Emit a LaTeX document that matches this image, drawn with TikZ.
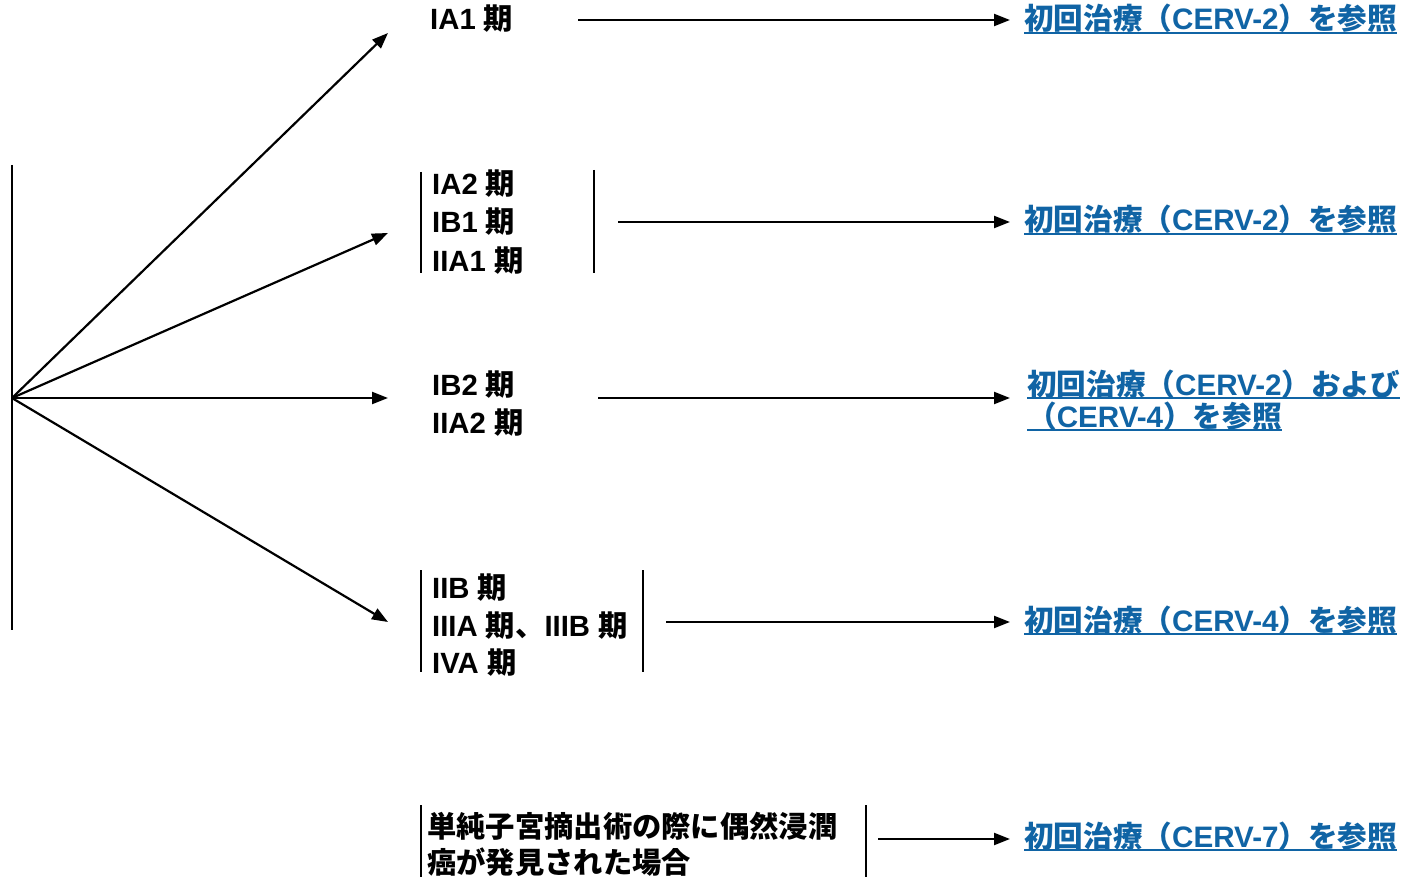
\documentclass[tikz,border=0pt]{standalone}
\usepackage{fontspec}
\setmainfont{Liberation Sans}
\newfontfamily\jp{Noto Sans CJK JP}
\usetikzlibrary{arrows.meta}
\newcommand\J[1]{{\jp #1}}
\definecolor{linkblue}{RGB}{16,100,165}
\begin{document}
\begin{tikzpicture}[x=1pt,y=-1pt,
  lbl/.style={anchor=base west,inner sep=0pt,font=\fontsize{29.3}{38}\selectfont\bfseries},
  lnk/.style={lbl,text=linkblue,font=\fontsize{29.6}{38}\selectfont\bfseries},
  arr/.style={line width=2.2pt,-{Triangle[length=16pt,width=12pt]}},
  bar/.style={line width=2.2pt},
  ul/.style={line width=2.2pt,linkblue}]
\useasboundingbox (0,0) rectangle (1418,877);
\fill[white] (0,0) rectangle (1418,877);
% left trunk
\coordinate (top) at (12,165);
\coordinate (bot) at (12,630);
\coordinate (o) at (12,398);
\draw[bar] (top) -- (bot);
% fan arrow tips
\coordinate (t1) at (388,33);
\coordinate (t2) at (388,233);
\coordinate (t3) at (388,398);
\coordinate (t4) at (388,622);
\foreach \t in {t1,t2,t3,t4} \draw[arr] (o) -- (\t);
% stage labels
\node[lbl] (s1) at (430,30) {IA1 \J{期}};
\node[lbl] (s2a) at (432,195) {IA2 \J{期}};
\node[lbl] (s2b) at (432,233) {IB1 \J{期}};
\node[lbl] (s2c) at (432,272) {IIA1 \J{期}};
\node[lbl] (s3a) at (432,395) {IB2 \J{期}};
\node[lbl] (s3b) at (432,433) {IIA2 \J{期}};
\node[lbl] (s4a) at (432,598) {IIB \J{期}};
\node[lbl] (s4b) at (432,636) {IIIA \J{期、}IIIB \J{期}};
\node[lbl] (s4c) at (432,673) {IVA \J{期}};
\node[lbl] (s5a) at (427,837) {\J{単純子宮摘出術の際に偶然浸潤}};
\node[lbl] (s5b) at (427,873) {\J{癌が発見された場合}};
% bars
\coordinate (b2l1) at (421,172); \coordinate (b2l2) at (421,273);
\coordinate (b2r1) at (594,170); \coordinate (b2r2) at (594,273);
\coordinate (b4l1) at (421,570); \coordinate (b4l2) at (421,672);
\coordinate (b4r1) at (643,570); \coordinate (b4r2) at (643,672);
\coordinate (b5l1) at (421,805); \coordinate (b5l2) at (421,877);
\coordinate (b5r1) at (866,805); \coordinate (b5r2) at (866,877);
\draw[bar] (b2l1) -- (b2l2);
\draw[bar] (b2r1) -- (b2r2);
\draw[bar] (b4l1) -- (b4l2);
\draw[bar] (b4r1) -- (b4r2);
\draw[bar] (b5l1) -- (b5l2);
\draw[bar] (b5r1) -- (b5r2);
% horizontal arrows
\coordinate (h1s) at (578,20);  \coordinate (h1e) at (1010,20);
\coordinate (h2s) at (618,222); \coordinate (h2e) at (1010,222);
\coordinate (h3s) at (598,398); \coordinate (h3e) at (1010,398);
\coordinate (h4s) at (666,622); \coordinate (h4e) at (1010,622);
\coordinate (h5s) at (878,839); \coordinate (h5e) at (1010,839);
\foreach \i in {1,...,5} \draw[arr] (h\i s) -- (h\i e);
% links
\node[lnk] (l1) at (1024,30) {\J{初回治療（}CERV-2\J{）を参照}};
\node[lnk] (l2) at (1024,231) {\J{初回治療（}CERV-2\J{）を参照}};
\node[lnk] (l3a) at (1027,395) {\J{初回治療（}CERV-2\J{）および}};
\node[lnk] (l3b) at (1027,427) {\J{（}CERV-4\J{）を参照}};
\node[lnk] (l4) at (1024,631) {\J{初回治療（}CERV-4\J{）を参照}};
\node[lnk] (l5) at (1024,847) {\J{初回治療（}CERV-7\J{）を参照}};
\foreach \l in {l1,l2,l3a,l3b,l4,l5}
  \draw[ul] ([yshift=-3pt]\l.base west) -- ([yshift=-3pt]\l.base east);
\end{tikzpicture}
\end{document}
